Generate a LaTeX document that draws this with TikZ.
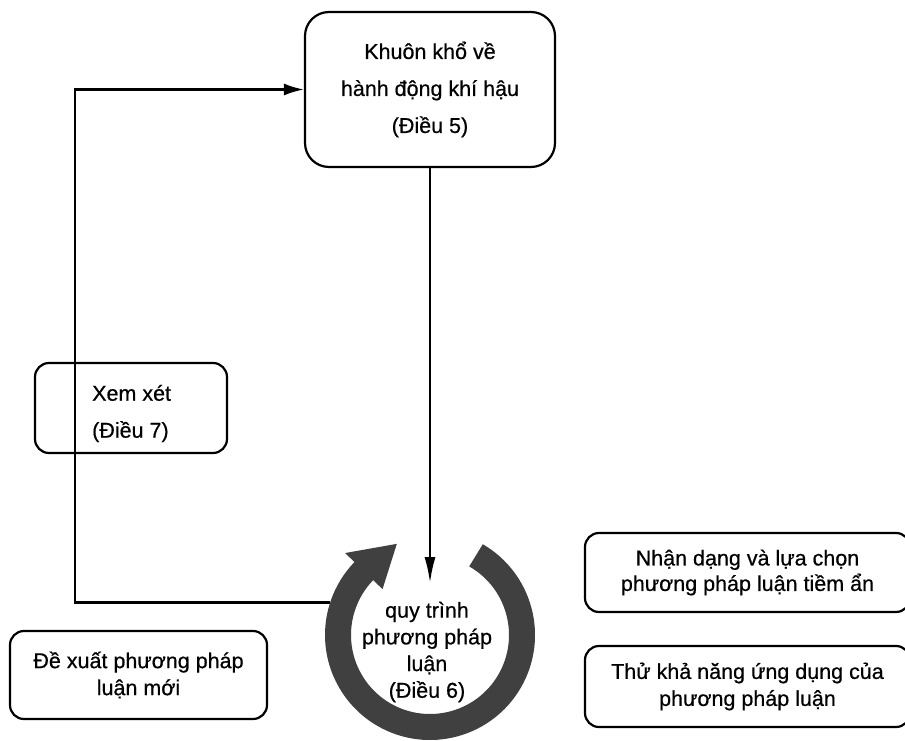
\documentclass[tikz,border=0pt]{standalone}
\usepackage{fontspec}
\setmainfont[FakeBold=0.6]{Liberation Sans}
\usetikzlibrary{arrows.meta,calc}
\begin{document}
\begin{tikzpicture}[x=1pt,y=1pt,
  box/.style={draw, line width=2.2pt, rounded corners=14pt, inner sep=0pt, align=center},
  conn/.style={line width=2.2pt},
  ringcol/.style={black!75}
]
\useasboundingbox (0,0) rectangle (905,740);
\clip (0,0) rectangle (905,740);

% top box
\node[box, rounded corners=24pt, minimum width=250pt, minimum height=155pt,
      font=\fontsize{21.5}{37}\selectfont] (khuon) at (430,650.5)
      {Khuôn khổ về\\hành động khí hậu\\(Điều 5)};

% Xem xet box
\node[box, minimum width=192pt, minimum height=90pt] (xem) at (131,332) {};
\node[anchor=west, align=left, inner sep=0pt, font=\fontsize{21.5}{37}\selectfont]
      (xemtext) at (92,326.5) {Xem xét\\(Điều 7)};

% bottom-left box
\node[box, minimum width=257pt, minimum height=88pt,
      font=\fontsize{21.5}{27}\selectfont] (dexuat) at (138.5,65)
      {Đề xuất phương pháp\\luận mới};

% right boxes
\node[box, minimum width=325pt, minimum height=79pt,
      font=\fontsize{21.5}{25.5}\selectfont] (nhan) at (747.5,167.5)
      {Nhận dạng và lựa chọn\\phương pháp luận tiềm ẩn};
\node[box, minimum width=325pt, minimum height=81pt,
      font=\fontsize{21.5}{27}\selectfont] (thu) at (747.5,53.5)
      {Thử khả năng ứng dụng của\\phương pháp luận};

% process cycle
\node[circle, minimum size=210pt, inner sep=0pt] (proc) at (430,105) {};
\draw[ringcol, line width=26pt] (proc.center) ++(60:92) arc[start angle=60, end angle=-226, radius=92];
\fill[ringcol] ($(proc.center)+(136:118)$) -- ($(proc.center)+(110:97)$) -- ($(proc.center)+(136:66)$) -- cycle;
\node[align=center, inner sep=0pt, font=\fontsize{21.5}{26.7}\selectfont] (proctext) at (427,88)
      {quy trình\\phương pháp\\luận\\(Điều 6)};

% connectors
\coordinate (tip) at (430,157);
\coordinate (corner) at (75,650.5);
\draw[conn, -{Latex[length=26pt,width=11pt]}] (khuon.south) -- (tip);
\draw[conn, -{Latex[length=20pt,width=12pt]}] (proc.162) -| (corner) -- (khuon.west);
\end{tikzpicture}
\end{document}
